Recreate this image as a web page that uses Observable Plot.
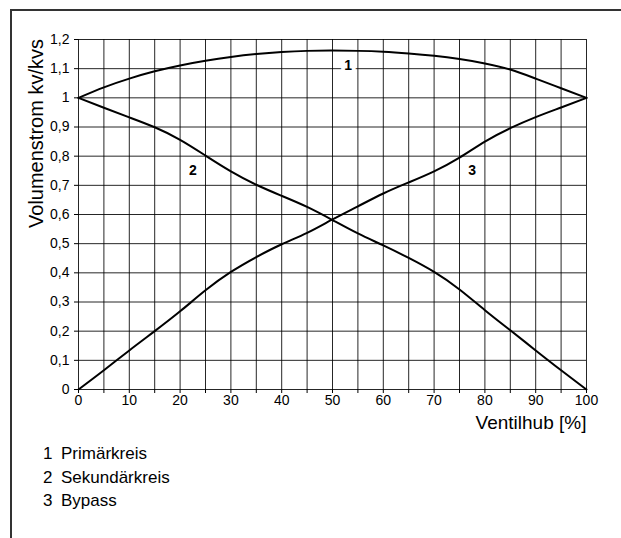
<!DOCTYPE html>
<html>
<head>
<meta charset="utf-8">
<script src="https://cdn.jsdelivr.net/npm/d3@7"></script>
<script src="https://cdn.jsdelivr.net/npm/@observablehq/plot@0.6"></script>
<style>
  html, body { margin: 0; padding: 0; background: #fff; }
  body { width: 621px; height: 538px; position: relative; overflow: hidden; font-family: "Liberation Sans", Arial, Helvetica, sans-serif; }
  #frame { position: absolute; left: 10px; top: 9px; width: 620px; height: 540px; border-left: 2px solid #333; border-top: 2px solid #333; box-sizing: border-box; }
  #chart { position: absolute; left: 0; top: 0; }
  #legend { position: absolute; left: 43px; top: 442px; font-size: 17px; line-height: 23.5px; color: #000; }
  #legend span.n { display: inline-block; width: 18px; }
</style>
</head>
<body>
<div id="frame"></div>
<div id="chart"></div>
<div id="legend"></div>
<script>
// Data
const hub = [0, 5, 10, 15, 20, 25, 30, 35, 40, 45, 50, 55, 60, 65, 70, 75, 80, 85, 90, 95, 100];
const primaer = [1.0, 1.036, 1.066, 1.091, 1.111, 1.127, 1.14, 1.15, 1.157, 1.161, 1.162, 1.161, 1.158, 1.152, 1.144, 1.133, 1.118, 1.097, 1.066, 1.033, 1.0];
const sekundaer = [1.0, 0.966, 0.933, 0.899, 0.856, 0.802, 0.748, 0.702, 0.664, 0.626, 0.581, 0.535, 0.494, 0.451, 0.403, 0.343, 0.272, 0.203, 0.134, 0.066, 0.0];
const bypass = [0.0, 0.066, 0.134, 0.2, 0.268, 0.34, 0.403, 0.454, 0.498, 0.537, 0.583, 0.628, 0.672, 0.71, 0.748, 0.795, 0.85, 0.896, 0.934, 0.967, 1.0];
const seriesNames = ["1", "2", "3"];
const legendNames = ["Primärkreis", "Sekundärkreis", "Bypass"];
const labelX = [53.1, 22.5, 77.5];
const labelY = [1.11, 0.751, 0.751];
const xTicks = [0, 5, 10, 15, 20, 25, 30, 35, 40, 45, 50, 55, 60, 65, 70, 75, 80, 85, 90, 95, 100];
const xTickLabels = [0, 10, 20, 30, 40, 50, 60, 70, 80, 90, 100];
const yTicks = [0, 0.1, 0.2, 0.3, 0.4, 0.5, 0.6, 0.7, 0.8, 0.9, 1.0, 1.1, 1.2];
const xTitle = "Ventilhub [%]";
const yTitle = "Volumenstrom kv/kvs";

const seriesValues = [primaer, sekundaer, bypass];
const rows = [];
seriesValues.forEach((vals, s) => hub.forEach((h, i) => rows.push({series: seriesNames[s], x: h, y: vals[i]})));
const labels = seriesNames.map((n, i) => ({text: n, x: labelX[i], y: labelY[i]}));
const fmt = d => String(+d.toFixed(1)).replace(".", ",");

const plot = Plot.plot({
  width: 621,
  height: 440,
  marginLeft: 78,
  marginRight: 35,
  marginTop: 39,
  marginBottom: 51,
  x: {domain: [0, 100]},
  y: {domain: [0, 1.2]},
  style: {fontFamily: "'Liberation Sans', Arial, Helvetica, sans-serif", fontSize: "14px", color: "#000", background: "transparent", overflow: "visible"},
  marks: [
    Plot.gridX(xTicks, {stroke: "#000", strokeOpacity: 0.85, strokeWidth: 1}),
    Plot.gridY(yTicks, {stroke: "#000", strokeOpacity: 0.85, strokeWidth: 1}),
    Plot.axisX(xTicks, {tickSize: 4, tickPadding: 2, label: null, stroke: "#000", tickFormat: d => xTickLabels.includes(d) ? String(d) : "", fontSize: 14}),
    Plot.axisY(yTicks, {tickSize: 4, tickPadding: 5, label: null, stroke: "#000", tickFormat: fmt, fontSize: 14}),
    Plot.line(rows, {x: "x", y: "y", z: "series", stroke: "#000", strokeWidth: 2, curve: "natural"}),
    Plot.text(labels, {x: "x", y: "y", text: "text", fontWeight: "bold", fontSize: 14, fill: "#000", stroke: "white", strokeWidth: 8}),
    Plot.text([xTitle], {frameAnchor: "bottom-right", dy: 39, textAnchor: "end", fontSize: 19, fill: "#000"}),
    Plot.text([yTitle], {frameAnchor: "top-left", rotate: -90, dx: -50, dy: 94, textAnchor: "middle", fontSize: 20, fill: "#000", letterSpacing: "0.5px"})
  ]
});
document.getElementById("chart").appendChild(plot);

const legend = document.getElementById("legend");
legendNames.forEach((name, i) => {
  const div = document.createElement("div");
  div.innerHTML = `<span class="n">${seriesNames[i]}</span>${name}`;
  legend.appendChild(div);
});
</script>
</body>
</html>
